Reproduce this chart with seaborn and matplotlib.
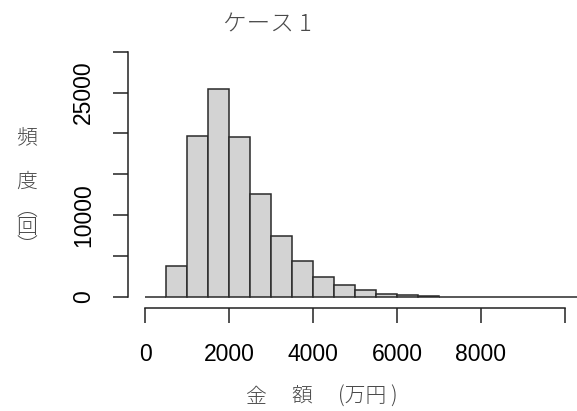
import matplotlib
matplotlib.use("Agg")
import matplotlib.pyplot as plt
import seaborn as sns
import numpy as np

# Data (histogram bins of width 500, counts)
bin_edges = list(range(0, 11000, 500))
counts = [0, 3750, 19650, 25400, 19600, 12630, 7500, 4360, 2490, 1430,
          815, 370, 200, 100, 50, 30, 15, 8, 5, 3, 2]
x_ticks = [0, 2000, 4000, 6000, 8000, 10000]
x_tick_labels = ["0", "2000", "4000", "6000", "8000", ""]
y_ticks = [0, 5000, 10000, 15000, 20000, 25000, 30000]
y_tick_labels = ["0", "", "10000", "", "", "25000", ""]
title = "ケース 1"

sns.set_style("ticks")
plt.rcParams['font.family'] = ['Liberation Sans', 'DejaVu Sans']

W, H = 577, 411
fig = plt.figure(figsize=(W / 100, H / 100), dpi=100)
L, R, B, T = 127.7, 577, 307.7, 51.7
ax = fig.add_axes([L / W, 1 - B / H, (R - L) / W, (B - T) / H])

mids = [(bin_edges[i] + bin_edges[i + 1]) / 2 for i in range(len(counts))]
sns.histplot(x=mids, weights=counts, bins=bin_edges, ax=ax,
             color='#D3D3D3', edgecolor='#2a2a2a', linewidth=1.1, alpha=1)

ax.set_xlim(-412, 10286)
ax.set_ylim(-1309, 30000)
ax.set_xlabel("")
ax.set_ylabel("")

ax.set_xticks(x_ticks)
ax.set_xticklabels(x_tick_labels, fontsize=16.5)
ax.set_yticks(y_ticks)
ax.set_yticklabels(y_tick_labels, fontsize=16.5, rotation=90, va='center')
ax.tick_params(axis='both', length=10.5, width=1.1, color='#222222', labelcolor='black')
ax.tick_params(axis='x', pad=15)
ax.tick_params(axis='y', pad=13)

for s in ['top', 'right']:
    ax.spines[s].set_visible(False)
ax.spines['left'].set_bounds(0, 30000)
ax.spines['bottom'].set_bounds(0, 10000)
for s in ['left', 'bottom']:
    ax.spines[s].set_linewidth(1.1)
    ax.spines[s].set_color('#222222')

cjk = ['Noto Sans CJK JP', 'DejaVu Sans']
tcol = '#4a4a4a'

def ftext(x, y, s, **kw):
    fig.text(x / W, 1 - y / H, s, ha='center', va='center', family=cjk,
             color=tcol, fontweight='light', **kw)

ftext(267, 25, title, fontsize=17)
ftext(27, 137, "頻", fontsize=15)
ftext(27, 182, "度", fontsize=15)
ftext(27, 227, "︵\n回\n︶", fontsize=15, linespacing=0.8)
ftext(255, 397, "金", fontsize=15)
ftext(302, 397, "額", fontsize=15)
ftext(368, 397, "(万円 )", fontsize=15)

fig.savefig("out.png", dpi=100)
